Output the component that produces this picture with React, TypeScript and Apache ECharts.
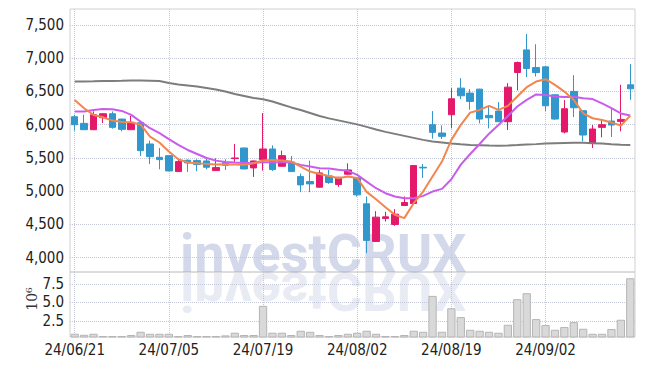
import React, { useEffect, useRef } from 'react';
import * as echarts from 'echarts';

const dates = [
  '24/06/21', '24/06/24', '24/06/25', '24/06/26', '24/06/27', '24/06/28',
  '24/07/01', '24/07/02', '24/07/03', '24/07/04', '24/07/05',
  '24/07/08', '24/07/09', '24/07/10', '24/07/11', '24/07/12',
  '24/07/15', '24/07/16', '24/07/17', '24/07/18', '24/07/19',
  '24/07/22', '24/07/23', '24/07/24', '24/07/25', '24/07/26',
  '24/07/29', '24/07/30', '24/07/31', '24/08/01', '24/08/02',
  '24/08/05', '24/08/06', '24/08/07', '24/08/08', '24/08/09',
  '24/08/12', '24/08/13', '24/08/14', '24/08/16', '24/08/19',
  '24/08/20', '24/08/21', '24/08/22', '24/08/23', '24/08/26',
  '24/08/27', '24/08/28', '24/08/29', '24/08/30', '24/09/02',
  '24/09/03', '24/09/04', '24/09/05', '24/09/06', '24/09/09',
  '24/09/10', '24/09/11', '24/09/12', '24/09/13',
];

// [open, close, low, high]
const ohlc: number[][] = [
  [6120, 6000, 5910, 6150], [6020, 5925, 5920, 6150], [5925, 6150, 5920, 6200],
  [6105, 6165, 6025, 6175], [6165, 5960, 5940, 6200], [6085, 5930, 5900, 6090],
  [5925, 6035, 5925, 6135], [6030, 5610, 5530, 6035], [5710, 5520, 5410, 5760],
  [5510, 5475, 5330, 5650], [5535, 5305, 5300, 5540], [5295, 5445, 5290, 5470],
  [5465, 5425, 5290, 5480], [5460, 5400, 5300, 5480], [5455, 5360, 5330, 5485],
  [5310, 5355, 5305, 5495], [5430, 5390, 5320, 5480], [5490, 5500, 5430, 5710],
  [5650, 5335, 5330, 5655], [5350, 5455, 5215, 5460], [5475, 5635, 5310, 6175],
  [5635, 5325, 5305, 5690], [5375, 5535, 5370, 5610], [5440, 5295, 5290, 5530],
  [5220, 5095, 4985, 5265], [5145, 5110, 4985, 5460], [5060, 5275, 5055, 5320],
  [5230, 5130, 5110, 5320], [5100, 5210, 5065, 5215], [5255, 5320, 5250, 5420],
  [5200, 4945, 4920, 5205], [4810, 4260, 4070, 4920], [4245, 4610, 4240, 4700],
  [4590, 4615, 4545, 4690], [4500, 4655, 4480, 4730], [4785, 4830, 4780, 4920],
  [4815, 5385, 4810, 5390], [5360, 5350, 5200, 5410], [6000, 5885, 5790, 6205],
  [5875, 5825, 5785, 5990], [6150, 6390, 5945, 6550], [6550, 6435, 6385, 6700],
  [6475, 6350, 6225, 6535], [6535, 6085, 6020, 6540], [6140, 6105, 5945, 6290],
  [6205, 6045, 6040, 6340], [6045, 6565, 5920, 6625], [6785, 6935, 6515, 6950],
  [7125, 6845, 6715, 7365], [6860, 6785, 6725, 7210], [6870, 6285, 6205, 6880],
  [6450, 6085, 6075, 6455], [5890, 6240, 5870, 6370], [6500, 6255, 6115, 6745],
  [6210, 5845, 5750, 6215], [5720, 5935, 5650, 5995], [5960, 6000, 5810, 6070],
  [6055, 5995, 5815, 6255], [6050, 6080, 5900, 6600], [6600, 6540, 6375, 6910],
];

const maShort = [
  6373, 6248, 6147, 6112, 6062, 6040, 6037, 6000, 5822, 5732,
  5596, 5481, 5431, 5421, 5411, 5401, 5406, 5401, 5396, 5421,
  5461, 5471, 5461, 5446, 5371, 5296, 5260, 5230, 5196, 5221,
  5200, 4990, 4880, 4760, 4645, 4595, 4820, 4995, 5221, 5446,
  5772, 5997, 6182, 6222, 6283, 6222, 6283, 6423, 6564, 6649,
  6684, 6598, 6498, 6373, 6172, 6097, 6072, 6032, 5987, 6137,
];

const maMid = [
  6197, 6197, 6222, 6237, 6232, 6207, 6147, 6047, 5947, 5872,
  5782, 5696, 5620, 5560, 5500, 5460, 5440, 5431, 5426, 5426,
  5436, 5436, 5436, 5431, 5396, 5371, 5346, 5341, 5321, 5306,
  5245, 5145, 5045, 4970, 4920, 4895, 4895, 4930, 4995, 5035,
  5180, 5400, 5560, 5710, 5865, 5997, 6130, 6273, 6373, 6455,
  6448, 6423, 6418, 6420, 6398, 6385, 6320, 6250, 6170, 6140,
];

const maLong = [
  6648, 6651, 6654, 6658, 6658, 6661, 6666, 6664, 6661, 6658,
  6628, 6605, 6590, 6575, 6553, 6530, 6500, 6463, 6433, 6403,
  6383, 6350, 6305, 6260, 6222, 6177, 6132, 6095, 6065, 6035,
  6005, 5967, 5929, 5892, 5862, 5832, 5802, 5772, 5749, 5734,
  5719, 5707, 5696, 5692, 5687, 5684, 5687, 5693, 5701, 5708,
  5716, 5722, 5725, 5727, 5727, 5722, 5716, 5707, 5699, 5696,
];

const volumes = [
  740000, 600000, 740000, 430000, 430000, 430000, 570000, 1010000, 740000, 740000,
  740000, 430000, 570000, 430000, 430000, 430000, 520000, 880000, 570000, 570000,
  4530000, 880000, 880000, 570000, 1150000, 1010000, 570000, 430000, 570000, 740000,
  880000, 1150000, 740000, 430000, 430000, 570000, 1150000, 1010000, 5880000, 1010000,
  4200000, 3000000, 1280000, 1150000, 1010000, 880000, 1960000, 5430000, 6240000, 2730000,
  1920000, 1280000, 1650000, 2320000, 1420000, 740000, 740000, 1380000, 2640000, 8270000,
];

const priceTicks = [4000, 4500, 5000, 5500, 6000, 6500, 7000, 7500];
const volumeTicks = [2500000, 5000000, 7500000];

const UP = '#e5196c';
const DOWN = '#3197cc';

export default function App() {
  const ref = useRef<HTMLDivElement>(null);

  useEffect(() => {
    const chart = echarts.init(ref.current as HTMLDivElement, null, { renderer: 'svg' });
    const labelFont = {
      fontFamily: "'Liberation Sans Narrow', 'DejaVu Sans Condensed', 'Liberation Sans', sans-serif",
      fontSize: 15,
      color: '#222',
    };
    const gridLine = { show: true, lineStyle: { type: 'dotted', color: '#c3c7d6', width: 1 } };
    const every10 = (i: number) => i % 10 === 0;

    chart.setOption({
      animation: false,
      backgroundColor: '#ffffff',
      grid: [
        { left: 70, right: 10, top: 9, height: 263, show: true, borderColor: '#d0d0d0', borderWidth: 1 },
        { left: 70, right: 10, top: 272, height: 65, show: true, borderColor: '#d0d0d0', borderWidth: 1 },
      ],
      xAxis: [
        {
          type: 'category', gridIndex: 0, data: dates, boundaryGap: true,
          axisLine: { show: false }, axisTick: { show: false }, axisLabel: { show: false },
          splitLine: { ...gridLine, interval: every10, alignWithLabel: true },
        },
        {
          type: 'category', gridIndex: 1, data: dates, boundaryGap: true,
          axisLine: { show: false }, axisTick: { show: false },
          axisLabel: { ...labelFont, interval: every10, margin: 5 },
          splitLine: { ...gridLine, interval: every10, alignWithLabel: true },
        },
      ],
      yAxis: [
        {
          type: 'value', gridIndex: 0, min: 3785, max: 7740, scale: true,
          axisLine: { show: false },
          axisTick: { show: false, customValues: priceTicks },
          axisLabel: {
            ...labelFont, margin: 6, customValues: priceTicks,
            formatter: (v: number) => v.toLocaleString('en-US'),
          },
          splitLine: gridLine,
        },
        {
          type: 'value', gridIndex: 1, min: 300000, max: 9120000, scale: true,
          axisLine: { show: false },
          axisTick: { show: false, customValues: volumeTicks },
          axisLabel: {
            ...labelFont, margin: 6, customValues: volumeTicks,
            formatter: (v: number) => (v / 1e6).toFixed(1),
          },
          splitLine: gridLine,
        },
      ],
      graphic: [
        {
          type: 'text', x: 180, y: 272, z: 0, silent: true,
          style: {
            text: 'investCRUX', x: 0, y: -19, verticalAlign: 'middle',
            font: 'bold 54px Roboto', fill: 'rgba(150,165,205,0.42)',
          },
        },
        {
          type: 'text', x: 180, y: 272, scaleY: -1, z: 0, silent: true,
          style: {
            text: 'investCRUX', x: 0, y: -19, verticalAlign: 'middle',
            font: 'bold 54px Roboto', fill: 'rgba(150,165,205,0.24)',
          },
        },
        {
          type: 'text', x: 32, y: 299, rotation: Math.PI / 2, silent: true,
          style: {
            text: '10⁶', align: 'center', verticalAlign: 'middle',
            font: '14px "DejaVu Serif"', fill: '#333',
          },
        },
      ],
      series: [
        {
          name: 'MA Long', type: 'line', xAxisIndex: 0, yAxisIndex: 0, data: maLong,
          showSymbol: false, lineStyle: { color: '#7d7d7d', width: 2 }, z: 3,
        },
        {
          name: 'MA Mid', type: 'line', xAxisIndex: 0, yAxisIndex: 0, data: maMid,
          showSymbol: false, lineStyle: { color: '#c95cec', width: 2 }, z: 3,
        },
        {
          name: 'MA Short', type: 'line', xAxisIndex: 0, yAxisIndex: 0, data: maShort,
          showSymbol: false, lineStyle: { color: '#ef874e', width: 2 }, z: 4,
        },
        {
          name: 'Price', type: 'candlestick', xAxisIndex: 0, yAxisIndex: 0, data: ohlc,
          barWidth: 7,
          itemStyle: { color: UP, color0: DOWN, borderColor: UP, borderColor0: DOWN, borderWidth: 1 },
          z: 2,
        },
        {
          name: 'Volume', type: 'bar', xAxisIndex: 1, yAxisIndex: 1, data: volumes,
          barWidth: '88%',
          itemStyle: { color: '#d9d9d9', borderColor: '#b5b5b5', borderWidth: 1 },
        },
      ],
    });
    return () => chart.dispose();
  }, []);

  return (
    <div
      ref={ref}
      style={{ position: 'absolute', left: 0, top: 0, width: 645, height: 366 }}
    />
  );
}
